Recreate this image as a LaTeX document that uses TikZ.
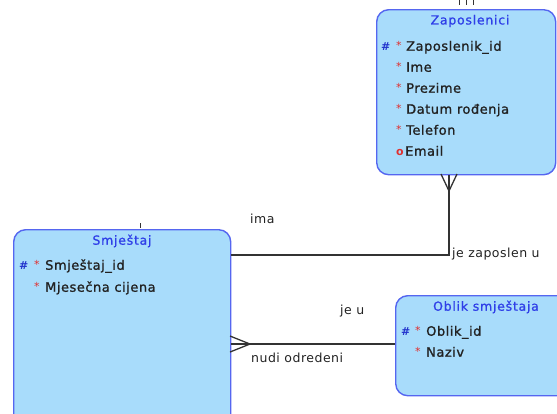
\documentclass[tikz,border=0pt]{standalone}
\usepackage{fontspec}
\setmainfont{DejaVu Sans}
\newfontfamily\attrfont[FakeBold=1.2, LetterSpace=4]{DejaVu Sans}
\newfontfamily\labfont[LetterSpace=4]{DejaVu Sans}
\newfontfamily\titfont[FakeBold=1, LetterSpace=6]{DejaVu Sans}
\definecolor{entf}{HTML}{A8DCFB}
\definecolor{entb}{HTML}{5566F0}
\definecolor{titc}{HTML}{2F3FE8}
\definecolor{keyc}{HTML}{2233CC}
\definecolor{starc}{HTML}{E03030}
\definecolor{txtc}{HTML}{222222}
\definecolor{linec}{HTML}{333333}
\begin{document}
\begin{tikzpicture}[x=1pt,y=-1pt,
  entity/.style={draw=entb, fill=entf, line width=1.4pt, rounded corners=12pt, anchor=north west, inner sep=0pt},
  etitle/.style={font=\titfont\fontsize{12.5}{14}\selectfont, text=titc, inner sep=0pt},
  attr/.style={font=\attrfont\fontsize{13}{15}\selectfont, text=txtc, anchor=mid west, inner sep=0pt},
  keymark/.style={font=\fontsize{11}{13}\selectfont\bfseries, text=keyc, anchor=mid west, inner sep=0pt},
  starmark/.style={font=\fontsize{11}{13}\selectfont, text=starc, anchor=mid west, inner sep=0pt},
  rlabel/.style={font=\labfont\fontsize{12.5}{14}\selectfont, text=txtc, anchor=mid west, inner sep=0pt},
  conn/.style={draw=linec, line width=1.3pt}]
\useasboundingbox (0,0) rectangle (557,413);
\clip (0,0) rectangle (557,413);

% entities
\node[entity, minimum width=179pt, minimum height=165pt] (zap) at (376,9) {};
\node[entity, minimum width=217pt, minimum height=210pt] (smj) at (13,229) {};
\node[entity, minimum width=185pt, minimum height=100pt] (obl) at (395,295) {};

% Zaposlenici
\node[etitle] (zapt) at (470,21) {Zaposlenici};
\node[keymark] (zk1) at (381,48) {\#};
\node[starmark] (zs1) at (396,47) {*};
\node[attr] (za1) at (406,48) {Zaposlenik\_id};
\node[starmark] (zs2) at (396,68) {*};
\node[attr] (za2) at (406,69) {Ime};
\node[starmark] (zs3) at (396,89) {*};
\node[attr] (za3) at (406,90) {Prezime};
\node[starmark] (zs4) at (396,110) {*};
\node[attr] (za4) at (406,111) {Datum rođenja};
\node[starmark] (zs5) at (396,131) {*};
\node[attr] (za5) at (406,132) {Telefon};
\node[starmark, font=\fontsize{11}{13}\selectfont\bfseries] (zs6) at (396,153) {o};
\node[attr] (za6) at (405,153) {Email};

% Smjestaj
\node[etitle] (smjt) at (122,241) {Smještaj};
\node[keymark] (sk1) at (19,267) {\#};
\node[starmark] (ss1) at (34,266) {*};
\node[attr] (sa1) at (45,267) {Smještaj\_id};
\node[starmark] (ss2) at (34,288) {*};
\node[attr] (sa2) at (45,289) {Mjesečna cijena};

% Oblik smjestaja
\node[etitle] (oblt) at (486,307) {Oblik smještaja};
\node[keymark] (ok1) at (401,333) {\#};
\node[starmark] (os1) at (415,332) {*};
\node[attr] (oa1) at (426,333) {Oblik\_id};
\node[starmark] (os2) at (415,353) {*};
\node[attr] (oa2) at (426,354) {Naziv};

% connector ima / je zaposlen u
\coordinate (c1) at (449,255);
\draw[conn] (smj.east |- c1) -- (c1) -- (c1 |- zap.south);
\coordinate (cf1) at (449,191);
\draw[conn] (cf1) -- ++(-8,-17);
\draw[conn] (cf1) -- ++(8,-17);

% connector je u / nudi odredeni
\coordinate (c2) at (395,344);
\draw[conn] (obl.west |- c2) -- (smj.east |- c2);
\coordinate (cf2) at (250,344);
\draw[conn] (cf2) -- ++(-20,-8);
\draw[conn] (cf2) -- ++(-20,8);

% small marks
\draw[conn, line width=0.8pt] (459,0) -- (459,5);
\draw[conn, line width=0.8pt] (466,0) -- (466,5);
\draw[conn, line width=0.8pt] (473,0) -- (473,5);
\draw[conn, line width=0.6pt] (140,223) -- (140,228);

% labels
\node[rlabel] (l1) at (250,221) {ima};
\node[rlabel] (l2) at (452,255) {je zaposlen u};
\node[rlabel] (l3) at (340,312) {je u};
\node[rlabel] (l4) at (251,360) {nudi odredeni};
\end{tikzpicture}
\end{document}
